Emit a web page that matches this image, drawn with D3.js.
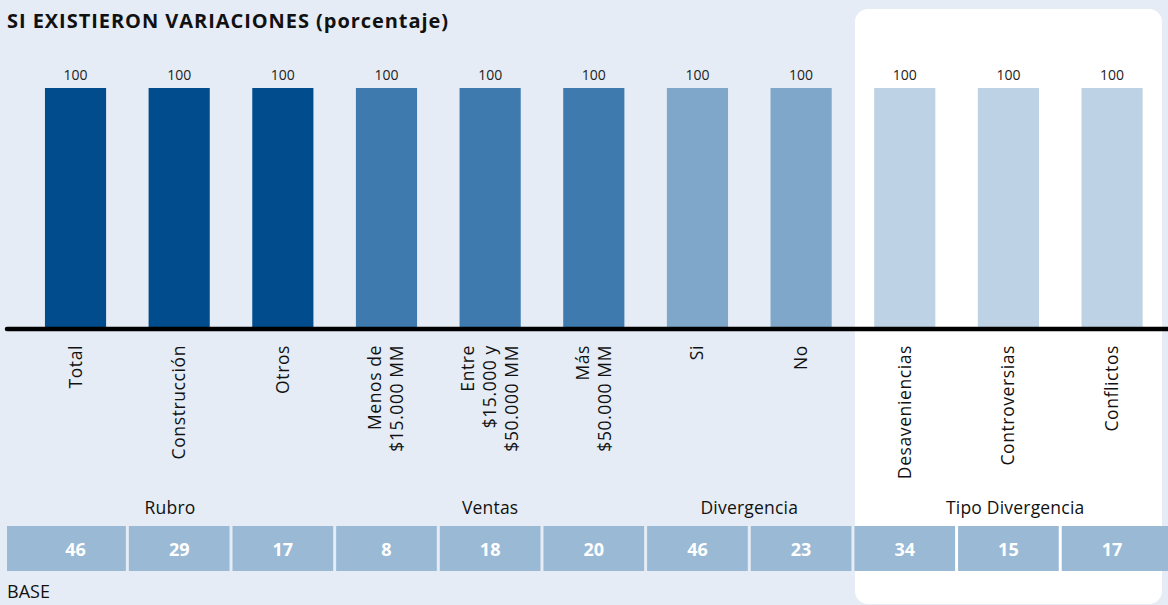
<!DOCTYPE html>
<html><head><meta charset="utf-8">
<script src="https://cdn.jsdelivr.net/npm/d3@7"></script>
<style>html,body{margin:0;padding:0;background:#e5ecf5;}svg{display:block;font-family:"Open Sans",sans-serif;}</style>
</head><body><svg id="c" width="1168" height="605"></svg>
<script>
const categories = ["Total","Construcción","Otros","Menos de\n$15.000 MM","Entre\n$15.000 y\n$50.000 MM","Más\n$50.000 MM","Si","No","Desaveniencias","Controversias","Conflictos"];
const values = [100,100,100,100,100,100,100,100,100,100,100];
const bases = [46,29,17,8,18,20,46,23,34,15,17];
const groupIdx = [0,0,0,1,1,1,2,2,3,3,3];
const groups = ["Rubro","Ventas","Divergencia","Tipo Divergencia"];
const colors = ["#004c8c","#3e7aad","#7ea7c9","#bdd2e4"];
const title = "SI EXISTIERON VARIACIONES (porcentaje)";

const W=1168,H=605;
const svg=d3.select("#c");
svg.append("rect").attr("width",W).attr("height",H).attr("fill","#e5ecf5");
svg.append("rect").attr("x",855).attr("y",9).attr("width",307).attr("height",595).attr("rx",13).attr("fill","#ffffff");

const x=d3.scaleBand().domain(categories).range([23.7,1163.9]).paddingInner(0.41).paddingOuter(0.205);
const y=d3.scaleLinear().domain([0,100]).range([328,88]);
const step=x.step(), bw=x.bandwidth();

svg.append("text").attr("x",7).attr("y",28).attr("font-size",20).attr("letter-spacing",0.95).attr("font-weight",700).attr("fill","#111").text(title);

svg.selectAll(".bar").data(categories).enter().append("rect")
 .attr("x",d=>x(d)).attr("y",(d,i)=>y(values[i])).attr("width",bw).attr("height",(d,i)=>y(0)-y(values[i]))
 .attr("fill",(d,i)=>colors[groupIdx[i]]);

svg.selectAll(".val").data(categories).enter().append("text")
 .attr("x",d=>x(d)+bw/2).attr("y",(d,i)=>y(values[i])-8).attr("text-anchor","middle").attr("font-size",14).attr("fill","#222")
 .text((d,i)=>values[i]);

svg.append("line").attr("x1",7).attr("x2",W+5).attr("y1",329).attr("y2",329).attr("stroke","#000").attr("stroke-width",4.5).attr("stroke-linecap","round");

// category labels
categories.forEach((c)=>{
  const lines=c.split("\n");
  const cx=x(c)+bw/2, lh=22;
  const g=svg.append("g").attr("transform",`translate(${cx},345) rotate(-90)`);
  lines.forEach((ln,j)=>{
    const off=(j-(lines.length-1)/2)*lh;
    g.append("text").attr("x",0).attr("y",off+6).attr("text-anchor","end").attr("font-size",17.5).attr("letter-spacing",0.6).attr("fill","#111").text(ln);
  });
});

// group labels
const cellL=(i)=> i===0?7:x(categories[i])+bw/2-step/2+1.5;
const cellR=(i)=> i===categories.length-1?W:x(categories[i])+bw/2+step/2-1.5;
groups.forEach((g,gi)=>{
  const idx=groupIdx.map((v,i)=>v===gi?i:-1).filter(i=>i>=0);
  const l=cellL(idx[0]), r=cellR(idx[idx.length-1]);
  svg.append("text").attr("x",(l+r)/2+ (gi===3?4:0)).attr("y",514).attr("text-anchor","middle").attr("font-size",17.5).attr("letter-spacing",0.2).attr("fill","#111").text(g);
});

categories.forEach((c,i)=>{
  svg.append("rect").attr("x",cellL(i)).attr("y",526).attr("width",cellR(i)-cellL(i)).attr("height",45).attr("fill","#9ab9d4");
  svg.append("text").attr("x",x(c)+bw/2).attr("y",556).attr("text-anchor","middle").attr("font-size",18).attr("font-weight",700).attr("fill","#fff").text(bases[i]);
});

svg.append("text").attr("x",7).attr("y",598).attr("font-size",18).attr("fill","#111").text("BASE");
</script></body></html>
